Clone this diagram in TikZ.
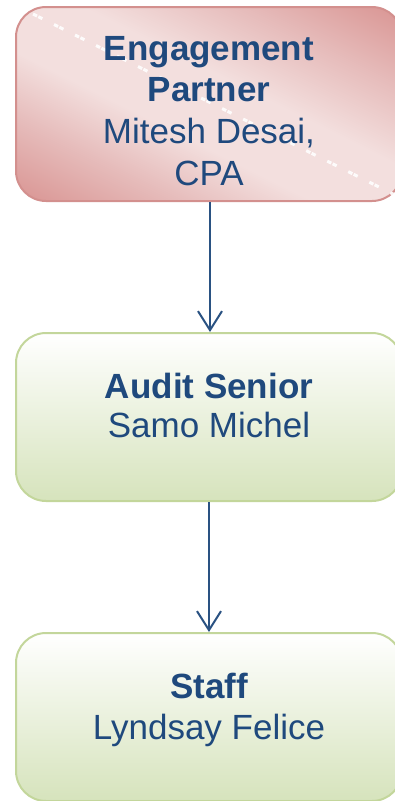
\documentclass[tikz,border=0pt]{standalone}
\usepackage{fontspec}
\setmainfont{Liberation Sans}
\usetikzlibrary{arrows.meta}

\definecolor{txtblue}{HTML}{1F497D}
\definecolor{linkblue}{HTML}{2A5282}
\definecolor{pinkdark}{HTML}{D8918F}
\definecolor{pinkmid}{HTML}{E6BCBB}
\definecolor{pinklight}{HTML}{F3DFDE}
\definecolor{pinkedge}{HTML}{D3908E}
\definecolor{greenlow}{HTML}{D6E3BC}
\definecolor{greenedge}{HTML}{C3D69B}

% dark towards two corners, pale band along the other diagonal
\pgfdeclareverticalshading{pinkband}{100bp}{%
  color(0bp)=(pinkdark); color(32bp)=(pinkdark); color(40bp)=(pinkmid);
  color(46bp)=(pinklight); color(53bp)=(pinklight); color(60bp)=(pinkmid);
  color(68bp)=(pinkdark); color(100bp)=(pinkdark)}

\tikzset{
  box/.style={rounded corners=30pt, line width=2pt, inner sep=0pt,
    minimum width=386pt},
  pinkbox/.style={box, draw=pinkedge, minimum height=194pt,
    path picture={
      \shade[shading=pinkband, shading angle=-26.7]
        ([shift={(-250pt,-250pt)}]path picture bounding box.center) rectangle
        ([shift={(250pt,250pt)}]path picture bounding box.center);}},
  greenbox/.style={box, draw=greenedge, minimum height=168pt,
    top color=white, bottom color=greenlow},
  headline/.style={anchor=base, text=txtblue, inner sep=0pt,
    font=\fontsize{35}{42}\selectfont\bfseries},
  nameline/.style={anchor=base, text=txtblue, inner sep=0pt,
    font=\fontsize{35}{42}\selectfont},
  link/.style={draw=linkblue, line width=2pt,
    -{Straight Barb[length=19pt, width=24pt, line width=2pt]}},
  gloss/.style={white, opacity=0.9, line width=3pt,
    dash pattern=on 4.5pt off 1.5pt on 4.5pt off 13pt}
}

\begin{document}
\begin{tikzpicture}[x=1pt, y=-1pt]
  \useasboundingbox (0,0) rectangle (395,801);
  \clip (0,0) rectangle (395,801);

  % boxes
  \node[pinkbox]  (partner) at (209,104) {};
  \node[greenbox] (senior)  at (209,417) {};
  \node[greenbox] (staff)   at (209,717) {};

  % glossy marks across the partner box
  \begin{scope}
    \clip[rounded corners=30pt] (partner.south west) rectangle (partner.north east);
    \draw[gloss] (33,14) -- (395,195);
  \end{scope}

  % labels
  \node[headline] (t1) at (209,60)    {Engagement};
  \node[headline] (t2) at (209,101.7) {Partner};
  \node[nameline] (t3) at (209,143.4) {Mitesh Desai,};
  \node[nameline] (t4) at (209,185)   {CPA};

  \node[headline] (s1) at (209,398.3) {Audit Senior};
  \node[nameline] (s2) at (209,437)   {Samo Michel};

  \node[headline] (f1) at (209,698)   {Staff};
  \node[nameline] (f2) at (209,739)   {Lyndsay Felice};

  % reporting lines
  \draw[link] ([xshift=1pt]partner.south) -- ([xshift=1pt]senior.north);
  \draw[link] (senior.south) -- (staff.north);
\end{tikzpicture}
\end{document}
